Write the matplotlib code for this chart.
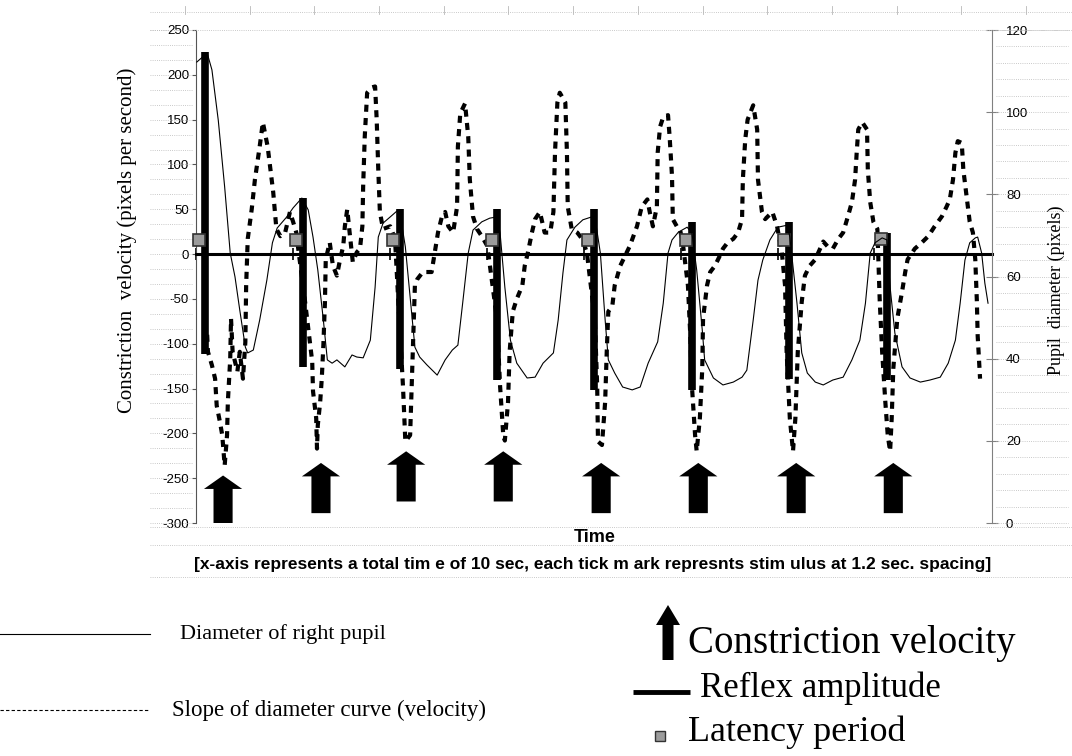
import matplotlib

matplotlib.use("Agg")
import matplotlib.pyplot as plt  # noqa: E402
import numpy as np  # noqa: E402
from matplotlib.lines import Line2D  # noqa: E402
from matplotlib.patches import FancyArrow  # noqa: E402
from matplotlib.transforms import blended_transform_factory  # noqa: E402

plt.rcParams["font.family"] = ["Liberation Sans", "DejaVu Sans"]
plt.rcParams["axes.unicode_minus"] = False
SERIF = ["Liberation Serif", "DejaVu Serif"]

# time in seconds (0-10 s)
diam_t = [0.01, 0.14, 0.20, 0.28, 0.36, 0.43, 0.49, 0.55, 0.62, 0.65,
          0.72, 0.80, 0.89, 0.96, 1.02, 1.14, 1.22, 1.33, 1.41, 1.47,
          1.53, 1.60, 1.65, 1.71, 1.77, 1.87, 1.96, 2.02, 2.10, 2.19,
          2.25, 2.29, 2.35, 2.44, 2.54, 2.56, 2.63, 2.69, 2.75, 2.81,
          2.90, 3.03, 3.13, 3.22, 3.29, 3.35, 3.42, 3.48, 3.59, 3.69,
          3.78, 3.82, 3.88, 3.95, 4.03, 4.16, 4.26, 4.36, 4.49, 4.55,
          4.61, 4.66, 4.76, 4.86, 4.97, 5.01, 5.08, 5.14, 5.18, 5.26,
          5.36, 5.48, 5.58, 5.68, 5.80, 5.87, 5.93, 5.98, 6.06, 6.17,
          6.23, 6.29, 6.36, 6.39, 6.50, 6.62, 6.75, 6.86, 6.92, 7.00,
          7.06, 7.12, 7.21, 7.31, 7.43, 7.46, 7.55, 7.61, 7.68, 7.78,
          7.88, 8.00, 8.13, 8.24, 8.34, 8.41, 8.47, 8.53, 8.62, 8.68,
          8.72, 8.78, 8.87, 8.97, 9.10, 9.22, 9.35, 9.45, 9.54, 9.60,
          9.66, 9.72, 9.79, 9.82, 9.87, 9.91, 9.95]
# pupil diameter, pixels (right axis)
diam_px = [112.2, 114.4, 110.3, 98.0, 81.8, 65.7, 59.9, 51.8, 42.8, 41.4,
           42.1, 49.4, 59.1, 68.2, 71.8, 74.5, 76.7, 79.1, 76.2, 69.6,
           61.6, 49.4, 39.7, 38.9, 39.7, 38.0, 40.9, 40.4, 40.2, 44.5,
           57.4, 69.6, 73.0, 74.5, 76.2, 75.7, 67.2, 55.0, 42.8, 40.4,
           38.5, 36.0, 39.7, 42.1, 43.3, 53.5, 65.7, 71.3, 73.3, 74.2,
           74.5, 70.6, 57.4, 44.5, 38.9, 35.3, 35.5, 38.9, 41.4, 49.4,
           60.9, 68.9, 72.0, 73.8, 74.5, 74.5, 65.7, 49.4, 39.7, 36.5,
           33.1, 32.4, 33.1, 38.9, 44.1, 53.5, 65.7, 68.9, 70.8, 72.0,
           70.6, 61.6, 47.0, 39.7, 35.3, 33.6, 34.3, 35.5, 37.2, 49.4,
           59.1, 64.0, 68.9, 72.0, 72.5, 69.6, 53.5, 41.4, 36.5, 34.3,
           33.6, 34.8, 35.5, 39.7, 44.5, 53.5, 65.7, 68.2, 69.4, 68.9,
           57.4, 46.2, 38.0, 35.3, 34.3, 34.8, 35.5, 38.9, 44.5, 53.5,
           64.0, 68.2, 69.4, 69.6, 65.7, 58.4, 53.5]

vel_t = [0.14, 0.15, 0.20, 0.24, 0.26, 0.30, 0.33, 0.36, 0.39, 0.40,
         0.43, 0.44, 0.46, 0.52, 0.55, 0.59, 0.62, 0.63, 0.65, 0.70,
         0.74, 0.80, 0.84, 0.90, 0.97, 1.01, 1.06, 1.12, 1.18, 1.22,
         1.26, 1.28, 1.37, 1.41, 1.46, 1.47, 1.51, 1.52, 1.53, 1.56,
         1.58, 1.60, 1.62, 1.63, 1.68, 1.72, 1.77, 1.81, 1.85, 1.87,
         1.90, 1.93, 1.97, 2.02, 2.06, 2.09, 2.10, 2.12, 2.15, 2.21,
         2.25, 2.27, 2.29, 2.31, 2.35, 2.44, 2.50, 2.54, 2.60, 2.63,
         2.69, 2.71, 2.73, 2.75, 2.78, 2.85, 2.96, 3.00, 3.04, 3.09,
         3.13, 3.17, 3.23, 3.28, 3.29, 3.32, 3.38, 3.42, 3.44, 3.48,
         3.53, 3.59, 3.66, 3.78, 3.82, 3.86, 3.88, 3.92, 3.94, 3.98,
         4.03, 4.10, 4.13, 4.17, 4.22, 4.26, 4.32, 4.38, 4.45, 4.49,
         4.51, 4.54, 4.57, 4.64, 4.66, 4.67, 4.72, 4.79, 4.85, 4.91,
         5.01, 5.04, 5.05, 5.10, 5.14, 5.16, 5.18, 5.23, 5.26, 5.33,
         5.39, 5.45, 5.54, 5.60, 5.67, 5.70, 5.74, 5.79, 5.80, 5.83,
         5.87, 5.93, 5.95, 5.98, 5.99, 6.04, 6.08, 6.12, 6.18, 6.21,
         6.23, 6.27, 6.29, 6.33, 6.36, 6.37, 6.42, 6.46, 6.52, 6.58,
         6.62, 6.68, 6.75, 6.81, 6.86, 6.87, 6.90, 6.93, 7.00, 7.05,
         7.06, 7.11, 7.15, 7.24, 7.30, 7.36, 7.40, 7.42, 7.46, 7.50,
         7.53, 7.56, 7.61, 7.65, 7.71, 7.78, 7.84, 7.88, 7.94, 8.00,
         8.07, 8.13, 8.19, 8.24, 8.28, 8.30, 8.32, 8.37, 8.43, 8.44,
         8.47, 8.51, 8.56, 8.57, 8.59, 8.62, 8.66, 8.69, 8.72, 8.74,
         8.76, 8.81, 8.87, 8.91, 8.94, 9.03, 9.12, 9.20, 9.28, 9.37,
         9.43, 9.47, 9.51, 9.54, 9.57, 9.62, 9.64, 9.69, 9.72, 9.76,
         9.79, 9.81, 9.82, 9.85]
# slope of diameter curve, pixels per second (left axis)
vel_v = [-90, -109, -124, -139, -169, -187, -202, -236, -202, -165,
         -117, -72, -109, -131, -109, -139, -98, -35, 17, 50,
         83, 120, 147, 120, 69, 28, 20, 24, 47, 36,
         24, 9, -53, -83, -120, -153, -183, -217, -191, -165,
         -139, -102, -53, -6, 13, -13, -24, -6, 9, 31,
         50, 24, -9, 2, 6, 31, 76, 131, 180, 186,
         187, 150, 94, 47, 28, 31, 17, -50, -147, -209,
         -202, -147, -91, -35, -28, -20, -20, 2, 24, 42,
         47, 31, 24, 53, 120, 157, 168, 131, 83, 42,
         28, 20, 9, -72, -147, -202, -208, -165, -109, -64,
         -50, -35, -13, 2, 24, 39, 47, 24, 24, 47,
         113, 169, 180, 169, 113, 53, 28, 24, 17, 2,
         -72, -147, -209, -213, -165, -109, -64, -58, -35, -13,
         -2, 9, 31, 53, 61, 47, 31, 53, 113, 142,
         153, 155, 131, 87, 39, 31, 28, 9, -35, -91,
         -147, -202, -220, -183, -128, -72, -35, -20, -13, -2,
         6, 13, 17, 24, 39, 83, 128, 150, 166, 139,
         83, 47, 39, 47, 31, 2, -35, -109, -183, -220,
         -183, -109, -53, -24, -13, -6, 6, 14, 8, 6,
         17, 24, 42, 58, 83, 113, 139, 147, 139, 94,
         58, 36, 28, 2, -53, -109, -165, -202, -220, -183,
         -128, -72, -42, -20, -6, 6, 13, 20, 31, 42,
         53, 61, 83, 113, 126, 124, 94, 58, 36, 24,
         -6, -53, -91, -139]

stim_t = [0.0, 1.22, 2.44, 3.65, 4.87, 6.09, 7.31, 8.52]
# reflex amplitude bars
amp_t = [0.11, 1.34, 2.56, 3.78, 5.00, 6.23, 7.45, 8.68]
amp_top = [225, 63, 50, 50, 50, 36, 36, 24]
amp_bottom = [-111, -126, -128, -141, -152, -152, -139, -140]
# latency period markers
lat_t = [0.04, 1.26, 2.47, 3.72, 4.92, 6.16, 7.39, 8.61]
lat_v = [16, 16, 16, 16, 16, 16, 16, 17]
# constriction velocity arrows
arrow_t = [0.34, 1.57, 2.64, 3.86, 5.09, 6.31, 7.54, 8.76]
arrow_tip = [-247, -233, -220, -220, -233, -233, -233, -233]
arrow_base = [-300, -289, -276, -276, -289, -289, -289, -289]

left_ticks = list(range(-300, 251, 50))
right_ticks = list(range(0, 121, 20))

W, H = 1072, 756


def fx(px):
    return px / W


def fy(py):
    return 1 - py / H


fig = plt.figure(figsize=(W / 100, H / 100), dpi=100)
fig.patch.set_facecolor("white")

# faint dotted frame lines of the scanned chart area
dot = dict(color="#b8b8b8", lw=0.6, ls=(0, (1, 1.6)))
for yy in (12, 30, 527, 545, 577):
    fig.add_artist(Line2D([fx(150), 1.0], [fy(yy), fy(yy)], **dot))
for xx in np.arange(185, W, 64.7):
    fig.add_artist(Line2D([fx(xx), fx(xx)], [fy(6), fy(14)], color="#b8b8b8", lw=0.6))

ax = fig.add_axes([fx(196), fy(523), fx(992) - fx(196), fy(30) - fy(523)])
ax2 = ax.twinx()
ax.set_xlim(0, 10)
ax.set_ylim(-300, 250)
ax2.set_ylim(0, 120)

# margin dotted lines beside both value axes
bl = blended_transform_factory(fig.transFigure, ax.transData)
for v in np.arange(-300, 251, 50 / 3):
    ax.add_line(Line2D([fx(150), fx(192)], [v, v], transform=bl, clip_on=False, **dot))
br = blended_transform_factory(fig.transFigure, ax2.transData)
for v in np.arange(0, 121, 4):
    ax2.add_line(Line2D([fx(996), fx(1068)], [v, v], transform=br, clip_on=False, **dot))

ax2.plot(diam_t, diam_px, color="black", lw=0.8, zorder=3)
ax.plot(vel_t, vel_v, color="black", lw=3.0, ls=(0, (1.7, 1.5)),
        dash_capstyle="butt", zorder=3)
ax.vlines(amp_t, amp_bottom, amp_top, colors="black", lw=5.5, zorder=4)
ax.plot(lat_t, lat_v, ls="none", marker="s", ms=9, mfc="#9c9c9c",
        mec="#333333", mew=1.2, clip_on=False, zorder=6)
for t, tip, base in zip(arrow_t, arrow_tip, arrow_base):
    ax.add_patch(FancyArrow(t, base, 0, tip - base, width=0.24, head_width=0.48,
                            head_length=15, length_includes_head=True,
                            color="black", lw=0, zorder=5))

# axes: x axis crosses at zero velocity
for s in ("top", "right"):
    ax.spines[s].set_visible(False)
ax.spines["bottom"].set_position(("data", 0))
ax.spines["bottom"].set_linewidth(2.2)
ax.spines["bottom"].set_zorder(4)
ax.spines["left"].set_color("#555555")
ax.set_xticks(stim_t)
ax.tick_params(axis="x", direction="inout", length=9, width=1.2,
               labelbottom=False, color="black")
ax.set_yticks(left_ticks)
ax.tick_params(axis="y", direction="out", length=3, width=0.8, color="#555555",
               labelsize=9.5, pad=2)

for s in ("top", "left", "bottom"):
    ax2.spines[s].set_visible(False)
ax2.spines["right"].set_color("#808080")
ax2.set_yticks(right_ticks)
ax2.tick_params(axis="y", direction="inout", length=8, width=0.8, color="#808080",
                labelsize=9.5, pad=6)

fig.text(fx(127), fy(240), "Constriction  velocity (pixels per second)",
         rotation=90, ha="center", va="center", family=SERIF, fontsize=15)
fig.text(fx(1056), fy(290), "Pupil  diameter (pixels)",
         rotation=90, ha="center", va="center", family=SERIF, fontsize=13)

fig.text(fx(595), fy(538), "Time", ha="center", va="center",
         fontweight="bold", fontsize=13)
note = fig.text(fx(593), fy(564),
                "[x-axis represents a total tim e of 10 sec, each tick m ark "
                "represnts stim ulus at 1.2 sec. spacing]",
                ha="center", va="center", fontweight="bold", fontsize=10)
fig.canvas.draw()
note.set_fontsize(10 * 793 / note.get_window_extent().width)

# hand-drawn legend below the chart (pixel layout)
lax = fig.add_axes([0, 0, 1, 1])
lax.set_xlim(0, W)
lax.set_ylim(H, 0)
lax.axis("off")
lax.patch.set_visible(False)

lax.plot([0, 150], [634, 634], color="black", lw=0.8)
lax.text(180, 634, "Diameter of right pupil", family=SERIF, fontsize=16, va="center")
lax.plot([0, 150], [710, 710], color="black", lw=0.8, ls=(0, (3, 2)))
lax.text(172, 710, "Slope of diameter curve (velocity)", family=SERIF,
         fontsize=16.5, va="center")

lax.add_patch(FancyArrow(668, 660, 0, -55, width=11, head_width=24, head_length=20,
                         length_includes_head=True, color="black", lw=0))
lax.text(688, 644, "Constriction velocity", family=SERIF, fontsize=28, va="center")
lax.plot([633, 690], [692, 692], color="black", lw=3.5, solid_capstyle="butt")
lax.text(700, 688, "Reflex amplitude", family=SERIF, fontsize=25, va="center")
lax.plot([660], [736], ls="none", marker="s", ms=7, mfc="#9c9c9c", mec="#333333", mew=1)
lax.text(688, 732, "Latency period", family=SERIF, fontsize=26, va="center")

fig.savefig("out.png", dpi=100)
